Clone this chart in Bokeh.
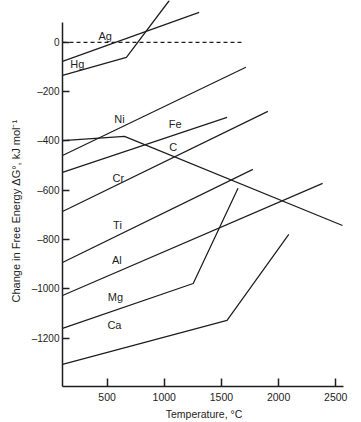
from bokeh.plotting import figure
from bokeh.models import Range1d, FixedTicker, Title, ColumnDataSource
from bokeh.embed import file_html
from bokeh.resources import INLINE
from bokeh.core.properties import value

FONT = "Liberation Sans"
INK = "#1e1e1e"

# ---- data (temperature in °C, free energy in kJ/mol O2) ----
T0 = 110
ag_T = [T0, 1305];          ag_G = [-77, 122]
hg_T = [T0, 669, 1044];     hg_G = [-134, -61, 170]
ni_T = [T0, 1714];          ni_G = [-459, -101]
fe_T = [T0, 1549];          fe_G = [-527, -304]
cr_T = [T0, 1906];          cr_G = [-686, -280]
c_T  = [T0, 652, 2559];     c_G  = [-398, -381, -743]
ti_T = [T0, 1775];          ti_G = [-893, -515]
al_T = [T0, 2385];          al_G = [-1027, -572]
mg_T = [T0, 1253, 1645];    mg_G = [-1160, -978, -592]
ca_T = [T0, 1549, 2089];    ca_G = [-1306, -1128, -779]
zero_T = [T0, 1679];        zero_G = [0, 0]

label_names = ["Ag", "Hg", "Ni", "Fe", "C", "Cr", "Ti", "Al", "Mg", "Ca"]
label_T = [483, 240, 608, 1096, 1078, 599, 591, 586, 573, 564]
label_G = [24, -89, -312, -333, -426, -552, -741, -881, -1031, -1148]

x_ticks = [500, 1000, 1500, 2000, 2500]
y_ticks = [0, -200, -400, -600, -800, -1000, -1200]
y_tick_labels = ["0", "\u2013200", "\u2013400", "\u2013600", "\u2013800", "\u20131000", "\u20131200"]

p = figure(width=361, height=422, output_backend="svg", toolbar_location=None,
           x_range=Range1d(T0, 2585), y_range=Range1d(-1396, 170),
           min_border_left=61, min_border_right=16, min_border_top=0, min_border_bottom=36)
p.outline_line_color = None
p.xgrid.visible = False
p.ygrid.visible = False
p.background_fill_color = "white"
p.border_fill_color = "white"

for Ts, Gs in [(ag_T, ag_G), (hg_T, hg_G), (ni_T, ni_G), (fe_T, fe_G), (cr_T, cr_G),
               (c_T, c_G), (ti_T, ti_G), (al_T, al_G), (mg_T, mg_G), (ca_T, ca_G)]:
    p.line(Ts, Gs, line_color=INK, line_width=1.25)

p.line(zero_T, zero_G, line_color=INK, line_width=1.1, line_dash="4 3")

src = ColumnDataSource(dict(x=label_T, y=label_G, t=label_names))
p.text(x="x", y="y", text="t", source=src, text_font=value(FONT), text_font_size="11px",
       text_color=INK, text_align="center", text_baseline="middle")

# axes
p.xaxis.ticker = FixedTicker(ticks=x_ticks)
p.yaxis.ticker = FixedTicker(ticks=y_ticks)
p.yaxis.major_label_overrides = {t: s for t, s in zip(y_ticks, y_tick_labels)}
p.yaxis.bounds = (-1396, 82)
p.xaxis.bounds = (T0, 2570)
for ax in (p.xaxis, p.yaxis):
    ax.axis_line_color = INK
    ax.axis_line_width = 1.5
    ax.major_tick_line_color = INK
    ax.major_tick_line_width = 1.5
    ax.minor_tick_line_color = None
    ax.major_tick_out = 0
    ax.major_label_text_font = FONT
    ax.major_label_text_color = INK
p.xaxis.major_tick_in = 8
p.yaxis.major_tick_in = 7
p.xaxis.major_label_text_font_size = "10.5px"
p.yaxis.major_label_text_font_size = "10px"
p.xaxis.major_label_standoff = 6
p.yaxis.major_label_standoff = 3

p.xaxis.axis_label = "Temperature, \u00b0C"
p.xaxis.axis_label_text_font = FONT
p.xaxis.axis_label_text_font_style = "normal"
p.xaxis.axis_label_text_font_size = "10.5px"
p.xaxis.axis_label_text_color = INK
p.xaxis.axis_label_standoff = 4

ytitle = Title(text="Change in Free Energy \u0394G\u00b0, kJ mol\u207b\u00b9",
               align="left", offset=84, standoff=14,
               text_font=FONT, text_font_size="11px", text_font_style="normal",
               text_color=INK)
p.add_layout(ytitle, "left")

open("out.html", "w").write(file_html(p, INLINE))
